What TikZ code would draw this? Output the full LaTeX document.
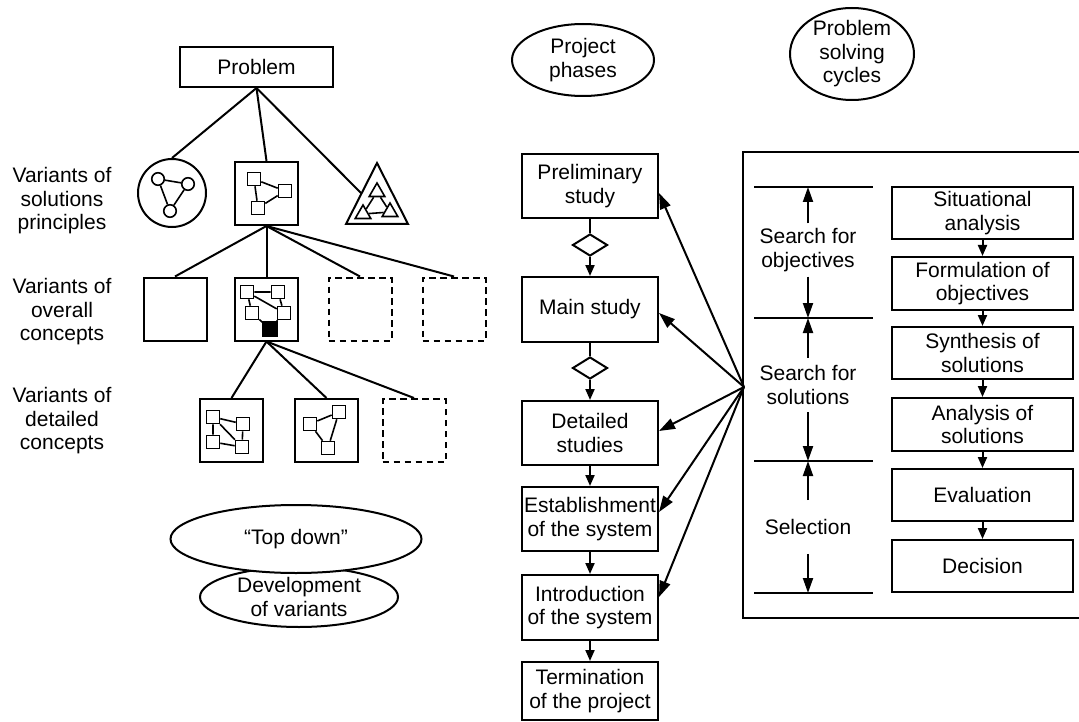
\documentclass[tikz,border=0pt]{standalone}
\usepackage{fontspec}
\setmainfont{Liberation Sans}
\usetikzlibrary{arrows.meta,shapes.geometric}
\begin{document}
\begin{tikzpicture}[x=1pt,y=-1pt,
  every node/.style={font=\fontsize{21}{23.5}\selectfont},
  lw/.style={line width=2pt},
  thin/.style={line width=1.6pt},
  box/.style={draw,lw,align=center,inner sep=0pt},
  phase/.style={box,minimum width=136pt,minimum height=64pt},
  cyc/.style={box,minimum width=181pt,minimum height=52pt},
  variant/.style={draw,lw,minimum size=63pt,inner sep=0pt},
  dvariant/.style={variant,dash pattern=on 6.5pt off 4.5pt},
  mini/.style={draw,thin,minimum size=13pt,inner sep=0pt},
  minic/.style={draw,thin,circle,minimum size=12.5pt,inner sep=0pt},
  minit/.style={draw,thin,regular polygon,regular polygon sides=3,minimum size=18pt,inner sep=0pt},
  oval/.style={draw,lw,ellipse,inner sep=0pt},
  gate/.style={draw,lw,diamond,minimum width=35pt,minimum height=22pt,inner sep=0pt},
  arr/.style={lw,-{Triangle[length=11pt,width=9pt]}},
  fanarr/.style={lw,-{Triangle[length=16pt,width=11pt]}},
  varr/.style={lw,-{Triangle[length=15pt,width=10pt]}}]
\useasboundingbox (0,0) rectangle (1079,722);

% ---------- variant tree ----------
\node[box,minimum width=153pt,minimum height=40pt] (prob) at (256.5,67) {Problem};

\node[align=center] (lv1) at (62,201) {Variants of\\solutions\\principles};
\node[align=center] (lv2) at (62,312) {Variants of\\overall\\concepts};
\node[align=center] (lv3) at (62,421) {Variants of\\detailed\\concepts};

% solution principles
\node[draw,lw,circle,minimum size=68pt,inner sep=0pt] (p1) at (172,193) {};
\node[minic] (p1a) at (158,179) {};
\node[minic] (p1b) at (188,184) {};
\node[minic] (p1c) at (170,211) {};
\draw[thin] (p1a) -- (p1b) (p1b) -- (p1c) (p1c) -- (p1a);

\node[variant] (p2) at (266.5,193.5) {};
\node[mini] (p2a) at (254,179) {};
\node[mini] (p2b) at (285,191) {};
\node[mini] (p2c) at (258,208) {};
\draw[thin] (p2a) -- (p2b) (p2a) -- (p2c) (p2c) -- (p2b);

\coordinate (p3top) at (377,163);
\coordinate (p3r) at (408,224);
\coordinate (p3l) at (346,224);
\coordinate (p3in) at (361.5,193.5);
\draw[lw] (p3top) -- (p3r) -- (p3l) -- cycle;
\node[minit] (p3a) at (377,192) {};
\node[minit] (p3b) at (363,214) {};
\node[minit] (p3c) at (390,212) {};
\draw[thin] (p3a) -- (p3b) (p3a) -- (p3c) (p3b) -- (p3c);

\draw[lw] (prob.south) -- (p1.north);
\draw[lw] (prob.south) -- (p2.north);
\draw[lw] (prob.south) -- (p3in);

% overall concepts
\node[variant] (o1) at (175,309) {};
\node[variant] (o2) at (266.5,309) {};
\node[dvariant] (o3) at (360,309) {};
\node[dvariant] (o4) at (454,309) {};
\node[mini] (o2a) at (247,292) {};
\node[mini] (o2b) at (278,292) {};
\node[mini] (o2c) at (252,313) {};
\node[mini] (o2d) at (284,313) {};
\node[mini,fill=black,minimum size=13.5pt] (o2e) at (270,329) {};
\draw[thin] (o2a) -- (o2b) (o2a) -- (o2c) (o2a) -- (o2d) (o2b) -- (o2d)
  (o2c) -- (o2e) (o2d) -- (o2e);

\foreach \t in {o1,o2,o3,o4} \draw[lw] (p2.south) -- (\t.north);

% detailed concepts
\node[variant] (c1) at (231.5,430.5) {};
\node[variant] (c2) at (326.5,430.5) {};
\node[dvariant] (c3) at (414,430.5) {};
\node[mini] (c1a) at (213,417) {};
\node[mini] (c1b) at (243,424) {};
\node[mini] (c1c) at (213,442) {};
\node[mini] (c1d) at (242,447) {};
\draw[thin] (c1a) -- (c1b) (c1a) -- (c1c) (c1a) -- (c1d) (c1c) -- (c1d) (c1b) -- (c1d);
\node[mini] (c2a) at (310,424) {};
\node[mini] (c2b) at (339,412) {};
\node[mini] (c2c) at (328,448) {};
\draw[thin] (c2a) -- (c2b) (c2a) -- (c2c) (c2b) -- (c2c);

\foreach \t in {c1,c2,c3} \draw[lw] (o2.south) -- (\t.north);

% approach ovals
\node[oval,minimum width=198pt,minimum height=60pt] (dev) at (299,597) {};
\node[align=center] (devt) at (dev.center) {Development\\of variants};
\node[oval,fill=white,minimum width=251pt,minimum height=68pt] (td) at (296,539) {};
\node (tdt) at (td.center) {“Top down”};

% ---------- project phases ----------
\node[oval,minimum width=142pt,minimum height=72pt] (pp) at (583,60) {};
\node[align=center] (ppt) at (pp.center) {Project\\phases};

\node[phase] (prelim) at (590,186) {Preliminary\\study};
\node[gate] (g1) at (590,245) {};
\node[phase,minimum height=65pt] (main) at (590,309.5) {Main study};
\node[gate] (g2) at (590,368) {};
\node[phase] (detail) at (590,433) {Detailed\\studies};
\node[phase] (estab) at (590,519) {Establishment\\of the system};
\node[phase,minimum height=65pt] (intro) at (590,607.5) {Introduction\\of the system};
\node[phase,minimum height=58pt] (term) at (590,691) {Termination\\of the project};

\draw[lw] (prelim) -- (g1);
\draw[arr] (g1) -- (main);
\draw[lw] (main) -- (g2);
\draw[arr] (g2) -- (detail);
\draw[arr] (detail) -- (estab);
\draw[arr] (estab) -- (intro);
\draw[arr] (intro) -- (term);

% ---------- problem solving cycles ----------
\node[oval,minimum width=124pt,minimum height=92pt] (psc) at (852,54) {};
\node[align=center] (psct) at (psc.center) {Problem\\solving\\cycles};

\draw[lw] (1079,152) -- (743,152) -- (743,618) -- (1079,618);

\coordinate (fan) at (744,387);
\draw[fanarr] (fan) -- ([yshift=-7pt]prelim.east);
\draw[fanarr] (fan) -- ([yshift=-3.5pt]main.east);
\draw[fanarr] (fan) -- ([yshift=2pt]detail.east);
\draw[fanarr] (fan) -- ([yshift=7pt]estab.east);
\draw[fanarr] (fan) -- ([yshift=10.5pt]intro.east);

% step divisions
\coordinate (h1) at (808,187);
\coordinate (h2) at (808,318);
\coordinate (h3) at (808,461);
\coordinate (h4) at (808,593);
\foreach \h in {h1,h2,h3,h4} \draw[lw] ([xshift=-54pt]\h) -- ([xshift=65pt]\h);

\node[align=center,inner xsep=0pt,inner ysep=5pt] (sobj) at (808,250) {Search for\\objectives};
\node[align=center,inner xsep=0pt,inner ysep=7.5pt] (ssol) at (808,385) {Search for\\solutions};
\node[inner xsep=0pt,inner ysep=19pt] (ssel) at (808,527) {Selection};
\draw[varr] (sobj.north) -- (h1);
\draw[varr] (sobj.south) -- (h2);
\draw[varr] (ssol.north) -- (h2);
\draw[varr] (ssol.south) -- (h3);
\draw[varr] (ssel.north) -- (h3);
\draw[varr] (ssel.south) -- (h4);

% cycle steps
\node[cyc] (sit) at (982.5,213) {Situational\\analysis};
\node[cyc,minimum height=53pt] (form) at (982.5,283.5) {Formulation of\\objectives};
\node[cyc] (syn) at (982.5,353) {Synthesis of\\solutions};
\node[cyc,minimum height=53pt] (ana) at (982.5,424.5) {Analysis of\\solutions};
\node[cyc] (eval) at (982.5,495) {Evaluation};
\node[cyc] (dec) at (982.5,566) {Decision};
\draw[arr] (sit) -- (form);
\draw[arr] (form) -- (syn);
\draw[arr] (syn) -- (ana);
\draw[arr] (ana) -- (eval);
\draw[arr] (eval) -- (dec);
\end{tikzpicture}
\end{document}
